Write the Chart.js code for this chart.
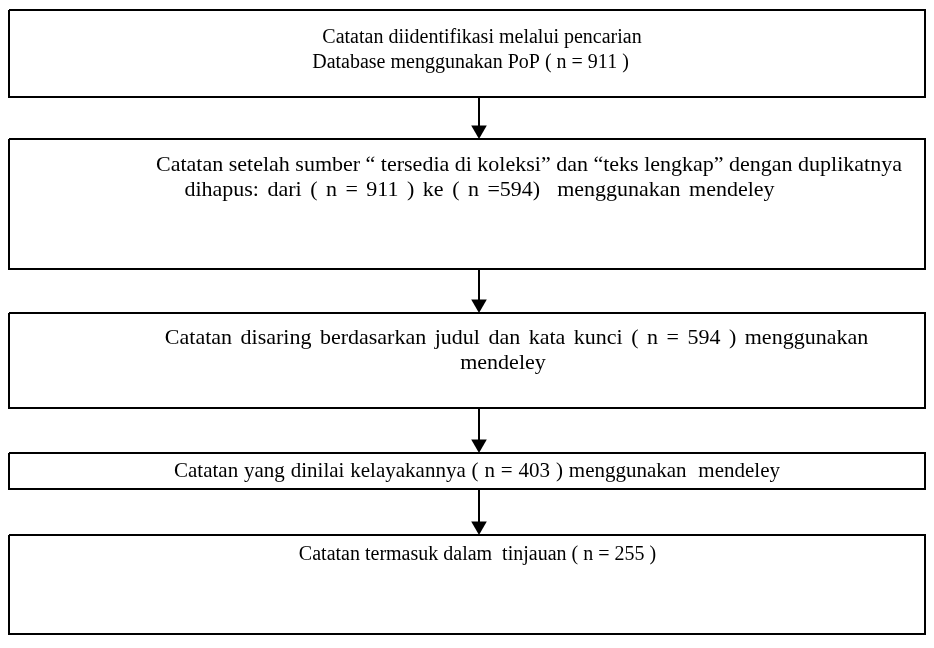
<!DOCTYPE html>
<html>
<head>
<meta charset="utf-8">
<script src="https://cdn.jsdelivr.net/npm/chart.js@4"></script>
<style>
  html, body { margin: 0; padding: 0; background: #fff; }
  #wrap { width: 934px; height: 648px; }
</style>
</head>
<body>
<div id="wrap"><canvas id="flowChart" width="934" height="648"></canvas></div>
<script>
// stage counts (n)
const identified = 911;
const afterDuplicates = 594;
const screened = 594;
const assessed = 403;
const included = 255;

// text of every stage, one array per box
const stage1 = ['Catatan diidentifikasi melalui pencarian', 'Database menggunakan PoP ( n = ' + identified + ' )'];
const stage2 = ['Catatan setelah sumber \u201c tersedia di koleksi\u201d dan \u201cteks lengkap\u201d dengan duplikatnya',
                'dihapus: dari ( n = ' + identified + ' ) ke ( n =' + afterDuplicates + ')  menggunakan mendeley'];
const stage3 = ['Catatan disaring berdasarkan judul dan kata kunci ( n = ' + screened + ' ) menggunakan', 'mendeley'];
const stage4 = ['Catatan yang dinilai kelayakannya ( n = ' + assessed + ' ) menggunakan  mendeley'];
const stage5 = ['Catatan termasuk dalam  tinjauan ( n = ' + included + ' )'];
const stages = [stage1, stage2, stage3, stage4, stage5];

// layout (in scale units, 1 unit = 1 px)
const boxLeft = 9, boxRight = 925;
const boxTop = [10, 139, 313, 453, 535];
const boxBottom = [97, 269, 408, 489, 634];
const arrowX = 479;
const headSize = 9;
// left / right end of every text line, and its vertical centre
const textFrom = [[326, 316], [160, 177], [153, 466], [174], [300]];
const textTo   = [[638, 625], [898, 782], [880, 540], [780], [655]];
const textY    = [[38, 63], [165, 190], [338, 363], [471], [555]];
const fontSize = [20, 22, 22, 21, 20];
const maxGap = 3;

const datasets = [];
stages.forEach(function(s, i) {
  datasets.push({
    data: [
      {x: boxLeft, y: boxTop[i]}, {x: boxRight, y: boxTop[i]},
      {x: boxRight, y: boxBottom[i]}, {x: boxLeft, y: boxBottom[i]},
      {x: boxLeft, y: boxTop[i]}
    ],
    showLine: true,
    borderColor: '#000',
    borderWidth: 2,
    borderJoinStyle: 'miter',
    pointRadius: 0,
    tension: 0
  });
  if (i < stages.length - 1) {
    // arrow shaft + head down to next box
    datasets.push({
      data: [{x: arrowX, y: boxBottom[i]}, {x: arrowX, y: boxTop[i + 1] - headSize}],
      showLine: true,
      borderColor: '#000',
      borderWidth: 2,
      pointRadius: [0, headSize],
      pointStyle: 'triangle',
      rotation: 180,
      pointBackgroundColor: '#000',
      pointBorderWidth: 0,
      tension: 0
    });
  }
});

const stageText = {
  id: 'stageText',
  afterDatasetsDraw(chart) {
    const c = chart.ctx, xs = chart.scales.x, ys = chart.scales.y;
    c.save();
    c.fillStyle = '#000';
    c.textBaseline = 'middle';
    c.textAlign = 'center';
    stages.forEach(function(lines, i) {
      c.font = fontSize[i] + 'px "Liberation Serif", "Times New Roman", serif';
      lines.forEach(function(t, j) {
        const x0 = xs.getPixelForValue(textFrom[i][j]);
        const x1 = xs.getPixelForValue(textTo[i][j]);
        const y = ys.getPixelForValue(textY[i][j]);
        c.wordSpacing = '0px';
        const w = c.measureText(t).width;
        const gaps = (t.match(/ /g) || []).length;
        if (gaps > 0 && x1 - x0 > w && 'wordSpacing' in c) {
          c.wordSpacing = Math.min(maxGap, (x1 - x0 - w) / gaps).toFixed(2) + 'px';
        }
        c.fillText(t, (x0 + x1) / 2, y);
      });
    });
    c.restore();
  }
};

new Chart(document.getElementById('flowChart'), {
  type: 'scatter',
  data: { datasets: datasets },
  options: {
    responsive: false,
    animation: false,
    layout: { padding: 0, autoPadding: false },
    plugins: { legend: { display: false }, tooltip: { enabled: false } },
    scales: {
      x: { type: 'linear', min: 0, max: 934, display: false },
      y: { type: 'linear', min: 0, max: 648, reverse: true, display: false }
    }
  },
  plugins: [stageText]
});
</script>
</body>
</html>
